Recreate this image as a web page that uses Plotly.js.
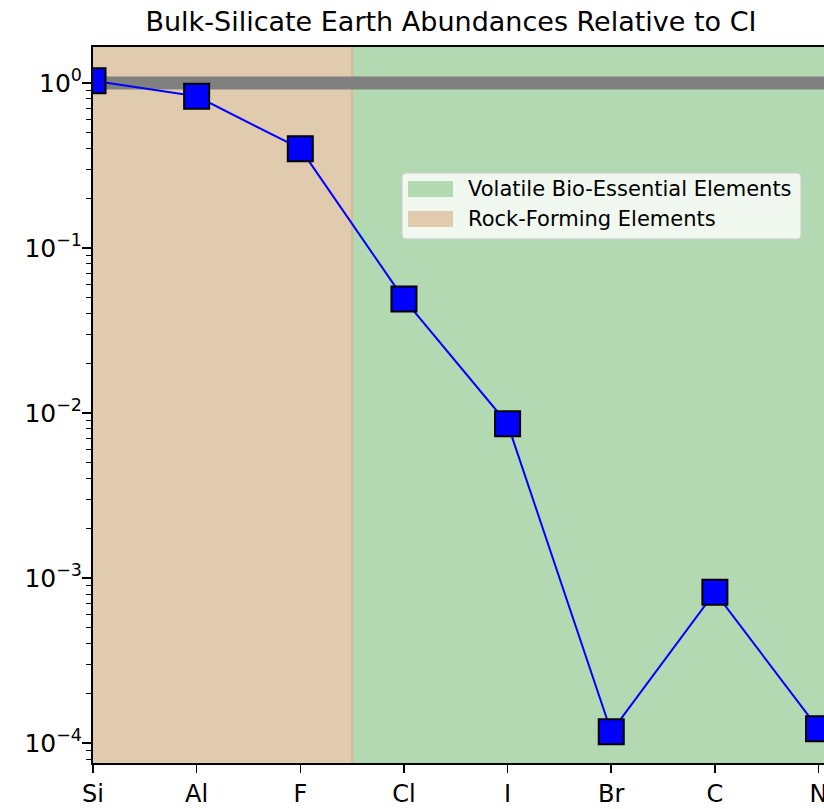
<!DOCTYPE html>
<html>
<head>
<meta charset="utf-8">
<script src="https://cdn.plot.ly/plotly-3.0.1.min.js"></script>
<style>
  html, body { margin: 0; padding: 0; overflow: hidden; background: #fff; }
  #chart { width: 900px; height: 809px; }
</style>
</head>
<body>
<div id="chart"></div>
<script>
// Elements, ordered from rock-forming to volatile
const elements = ['Si', 'Al', 'F', 'Cl', 'I', 'Br', 'C', 'N'];
// Bulk-silicate Earth abundance normalised to CI chondrites
const abundance = [1.03, 0.83, 0.40, 0.049, 0.0086, 1.17e-4, 8.2e-4, 1.22e-4];

// Shaded element groups: [from, to] in category index units
const groupNames = ['Volatile Bio-Essential Elements', 'Rock-Forming Elements'];
const groupSpans = [[2.5, 12], [-2, 2.5]];
const groupColors = ['rgb(178,217,178)', 'rgb(224,203,175)'];
const groupEdge = 'rgb(208,188,155)';

// Reference level (CI = 1)
const referenceLevel = 1;

// Log tick labels
const yTickVals = [1e-4, 1e-3, 1e-2, 1e-1, 1];
const yTickText = ['10<sup>−4</sup>', '10<sup>−3</sup>', '10<sup>−2</sup>', '10<sup>−1</sup>', '10<sup>0</sup>'];

const font = 'DejaVu Sans, sans-serif';

// plot area size in px, used to place the legend box in paper units
const W = 900, H = 809, M = { l: 93, r: 40, t: 47, b: 46 };
const pw = W - M.l - M.r, ph = H - M.t - M.b;
const px = v => (v - M.l) / pw;          // page x -> paper x
const py = v => 1 - (v - M.t) / ph;      // page y -> paper y

const shapes = groupNames.map((name, i) => ({
  type: 'rect', xref: 'x', yref: 'paper',
  x0: groupSpans[i][0], x1: groupSpans[i][1], y0: 0, y1: 1,
  fillcolor: groupColors[i], line: { width: 0 }, layer: 'below'
}));
// soft edge where the two groups meet
shapes.push({
  type: 'line', xref: 'x', yref: 'paper',
  x0: groupSpans[1][1], x1: groupSpans[1][1], y0: 0, y1: 1,
  line: { color: groupEdge, width: 2.5 }, layer: 'below'
});
// CI reference level
shapes.push({
  type: 'line', xref: 'paper', yref: 'y',
  x0: 0, x1: 1, y0: referenceLevel, y1: referenceLevel,
  line: { color: '#808080', width: 13 }, layer: 'below'
});

// legend box with rounded corners
const bx0 = px(402), bx1 = px(801), by0 = py(239), by1 = py(173);
const rx = 4 / pw, ry = 4 / ph;
shapes.push({
  type: 'path', xref: 'paper', yref: 'paper', layer: 'above',
  path: `M${bx0 + rx},${by0} L${bx1 - rx},${by0} Q${bx1},${by0} ${bx1},${by0 + ry} ` +
        `L${bx1},${by1 - ry} Q${bx1},${by1} ${bx1 - rx},${by1} ` +
        `L${bx0 + rx},${by1} Q${bx0},${by1} ${bx0},${by1 - ry} ` +
        `L${bx0},${by0 + ry} Q${bx0},${by0} ${bx0 + rx},${by0} Z`,
  fillcolor: 'rgba(255,255,255,0.8)', line: { color: '#cccccc', width: 1 }
});
const annotations = [];
groupNames.forEach((name, i) => {
  const rowTop = 181 + i * 30;
  shapes.push({
    type: 'rect', xref: 'paper', yref: 'paper', layer: 'above',
    x0: px(408), x1: px(453), y0: py(rowTop + 16), y1: py(rowTop),
    fillcolor: groupColors[i], line: { width: 0 }
  });
  annotations.push({
    xref: 'paper', yref: 'paper', x: px(466), y: py(rowTop + 8),
    xanchor: 'left', yanchor: 'middle', showarrow: false, text: name,
    font: { family: font, size: 21, color: '#000' }
  });
});

const trace = {
  x: elements, y: abundance, type: 'scatter', mode: 'lines+markers',
  line: { color: '#0000ff', width: 2 },
  marker: { symbol: 'square', size: 25, color: '#0000ff', line: { color: '#000', width: 2 } },
  showlegend: false, cliponaxis: true
};

const layout = {
  width: W, height: H,
  margin: M,
  paper_bgcolor: '#fff', plot_bgcolor: '#fff',
  font: { family: font, color: '#000' },
  showlegend: false,
  title: {
    text: 'Bulk-Silicate Earth Abundances Relative to CI',
    font: { family: font, size: 27, color: '#000' },
    xref: 'container', x: 451 / W, xanchor: 'center',
    yref: 'container', y: 1 - 22 / H, yanchor: 'middle'
  },
  xaxis: {
    type: 'category', categoryorder: 'array', categoryarray: elements,
    range: [0, 7.4], showgrid: false, zeroline: false,
    showline: true, linecolor: '#000', linewidth: 2, mirror: true,
    ticks: 'outside', ticklen: 8, tickwidth: 1.5, tickcolor: '#000',
    tickfont: { family: font, size: 24, color: '#000' }
  },
  yaxis: {
    type: 'log', range: [-4.121, 0.218], showgrid: false, zeroline: false,
    showline: true, linecolor: '#000', linewidth: 2, mirror: true,
    tickmode: 'array', tickvals: yTickVals, ticktext: yTickText,
    ticks: 'outside', ticklen: 9, tickwidth: 1.5, tickcolor: '#000',
    ticklabelstandoff: -5,
    tickfont: { family: font, size: 25, color: '#000' },
    minor: { ticks: 'outside', ticklen: 5, tickwidth: 1, tickcolor: '#000', dtick: 'D1', showgrid: false }
  },
  shapes: shapes,
  annotations: annotations
};

Plotly.newPlot('chart', [trace], layout, { displayModeBar: false, staticPlot: true });
</script>
</body>
</html>
